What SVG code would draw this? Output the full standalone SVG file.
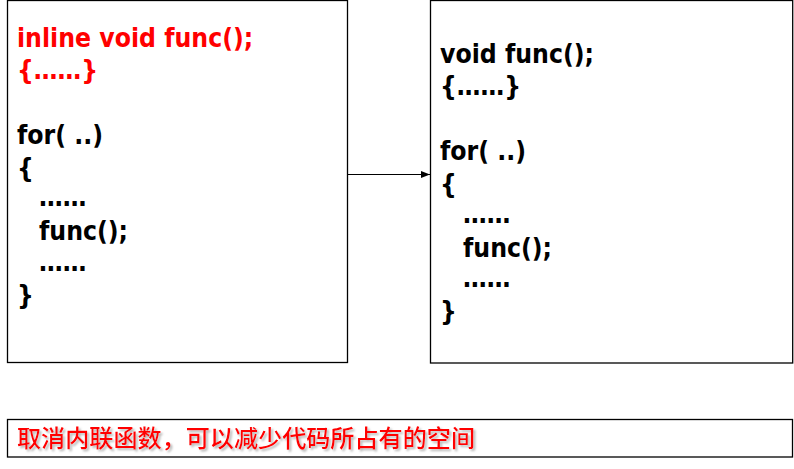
<svg xmlns="http://www.w3.org/2000/svg" width="794" height="469" viewBox="0 0 794 469">
<defs>
<style>
.box{fill:#fff;stroke:#000;stroke-width:1.3}
.code{font-family:"DejaVu Sans Condensed","DejaVu Sans","Liberation Sans",sans-serif;font-stretch:condensed;font-weight:bold;font-size:26.3px;fill:#000}
.red{fill:#ff0000}
.note{font-family:"Noto Sans CJK SC","Liberation Sans",sans-serif;font-size:24px;font-weight:500;fill:#ff0000}
.conn{stroke:#000;stroke-width:1;fill:none}
</style>
<marker id="arr" markerWidth="9" markerHeight="7" refX="9" refY="3.5" orient="auto" markerUnits="userSpaceOnUse">
<path d="M0,0 L9,3.5 L0,7 Z" fill="#000"/>
</marker>
<filter id="shadow" x="-5%" y="-30%" width="110%" height="160%">
<feDropShadow dx="2" dy="2" stdDeviation="1" flood-color="#999" flood-opacity="0.7"/>
</filter>
</defs>
<g id="node-inline">
<rect class="box" x="7.5" y="0.5" width="340" height="362"/>
<text class="code red" x="17" y="47">inline void func();</text>
<text class="code red" x="17" y="79">{……}</text>
<text class="code" x="17" y="144">for( ..)</text>
<text class="code" x="17" y="177">{</text>
<text class="code" x="39" y="206">……</text>
<text class="code" x="39" y="240">func();</text>
<text class="code" x="39" y="271">……</text>
<text class="code" x="17" y="304">}</text>
</g>
<g id="node-plain">
<rect class="box" x="430.5" y="0.5" width="362.2" height="362.5"/>
<text class="code" x="440" y="63">void func();</text>
<text class="code" x="440" y="95">{……}</text>
<text class="code" x="440" y="160">for( ..)</text>
<text class="code" x="440" y="193">{</text>
<text class="code" x="463" y="223">……</text>
<text class="code" x="463" y="257">func();</text>
<text class="code" x="463" y="287">……</text>
<text class="code" x="440" y="320">}</text>
</g>
<g id="connectors">
<line class="conn" x1="347.5" y1="174.5" x2="430" y2="174.5" marker-end="url(#arr)"/>
</g>
<g id="node-note">
<rect class="box" x="7.5" y="419.5" width="785" height="37.5"/>
<text class="note" x="17" y="447" textLength="458" lengthAdjust="spacingAndGlyphs" filter="url(#shadow)">取消内联函数，可以减少代码所占有的空间</text>
</g>
</svg>
